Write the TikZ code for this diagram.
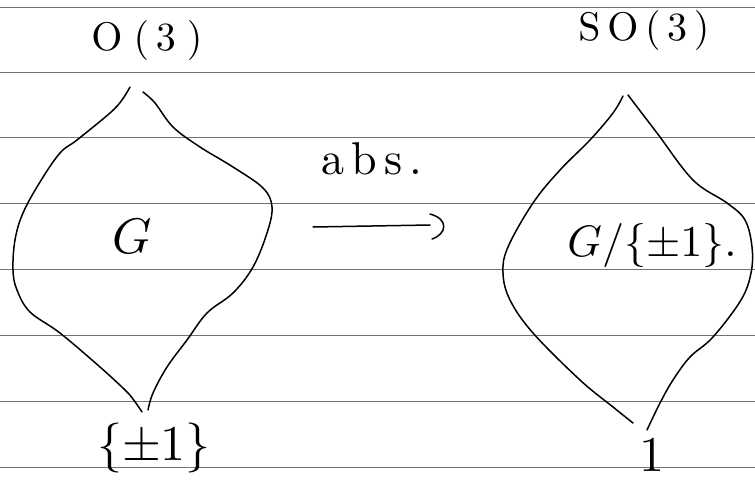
\documentclass[tikz,border=0pt]{standalone}
\begin{document}
\begin{tikzpicture}[x=1pt,y=-1pt,
  rule/.style={black!55,line width=0.6pt},
  stroke/.style={black,line width=1.5pt,line cap=round,line join=round},
  hand/.style={inner sep=0pt,outer sep=0pt}]
\useasboundingbox (0,0) rectangle (755,482);
\fill[white] (0,0) rectangle (755,482);
% ruled lines
\foreach \yy in {7,72,137,203,269,335,401,467}
  \draw[rule] (0,\yy) -- (755,\yy);
% left shape
\draw[stroke] plot[smooth,tension=0.6] coordinates {(130,87) (122,100) (110,113) (77,140) (60,153) (40,182) (23,213) (15,240) (13,270) (17,290) (30,312) (60,333) (100,367) (125,390) (133,399) (142,412)};
\draw[stroke] plot[smooth,tension=0.6] coordinates {(143,92) (155,103) (173,127) (200,147) (233,167) (263,188) (272,207) (267,233) (253,267) (233,293) (207,313) (187,340) (167,367) (153,393) (148,410)};
% right shape
\draw[stroke] plot[smooth,tension=0.6] coordinates {(623,96) (613,113) (590,140) (560,170) (533,203) (508,247) (503,273) (510,300) (533,333) (580,380) (613,407) (633,423)};
\draw[stroke] plot[smooth,tension=0.6] coordinates {(628,95) (657,133) (693,180) (727,203) (745,220) (752,247) (751,273) (741,300) (713,337) (690,357) (673,380) (660,403) (647,430)};
% labels
\node[hand,scale=4] (o3) at (147,40) {$\mathrm{O}\;(\,3\;)$};
\node[hand,scale=4] (so3) at (644,30) {$\mathrm{S}\,\mathrm{O}\,(\,3\,)$};
\node[hand,scale=5] (g) at (132,236) {$G$};
\node[hand,scale=4.4] (gq) at (652,245) {$G/\{\pm1\}.$};
\node[hand,scale=5] (pm) at (154,448) {$\{\pm1\}$};
\node[hand,scale=5] (one) at (652,455) {$1$};
\node[hand,scale=4.6,anchor=base] (abs) at (372,174) {a\kern1.5pt b\kern1.5pt s\kern1.5pt .};
% arrow
\coordinate (as) at (313,227);
\coordinate (ae) at (430,225);
\coordinate (h1) at (430,214);
\coordinate (h2) at (432,239);
\draw[stroke] (as) -- (ae);
\draw[stroke] (h1) .. controls (449,219) and (447,234) .. (h2);
\end{tikzpicture}
\end{document}
